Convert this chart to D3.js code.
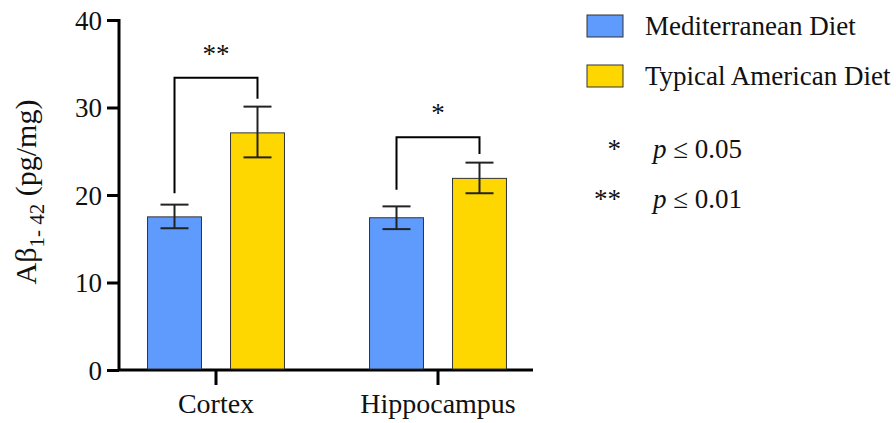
<!DOCTYPE html>
<html>
<head>
<meta charset="utf-8">
<script src="https://cdn.jsdelivr.net/npm/d3@7"></script>
<style>
  body { margin: 0; background: #fff; }
  svg { font-family: 'Liberation Serif', 'Times New Roman', serif; }
</style>
</head>
<body>
<svg width="896" height="423"></svg>
<script>
const regions = ['Cortex', 'Hippocampus'];
const series = ['Mediterranean Diet', 'Typical American Diet'];
const means = [[17.5, 27.1], [17.4, 21.9]];
const errLow = [[16.2, 24.3], [16.1, 20.2]];
const errHigh = [[18.9, 30.1], [18.7, 23.7]];
const yTicks = [0, 10, 20, 30, 40];
// bracket: height, left leg end, right leg end, label
const brackets = [
  { region: 'Cortex', top: 33.4, left: 20.2, right: 31.0, label: '**' },
  { region: 'Hippocampus', top: 26.6, left: 20.6, right: 24.7, label: '*' }
];
const sigKey = [['*', 'p', ' ≤ 0.05'], ['**', 'p', ' ≤ 0.01']];
const colors = ['#5e9bfd', '#ffd700'];

const serif = "'Liberation Serif', 'Times New Roman', serif";
const svg = d3.select('svg');
const axisX = 119, axisEnd = 533, baseY = 370;

const y = d3.scaleLinear().domain([0, 40]).range([baseY, 20]);
const x0 = d3.scaleBand().domain(regions).range([105, 549]).padding(0);
const x1 = d3.scaleBand().domain(series).range([0, x0.bandwidth()])
  .paddingInner(0.35).paddingOuter(0.5125);

// y axis
const yAxis = svg.append('g')
  .attr('transform', `translate(${axisX},0)`)
  .call(d3.axisLeft(y).tickValues(yTicks).tickSize(12).tickSizeOuter(0).tickPadding(5));
yAxis.select('.domain').attr('stroke-width', 3).attr('stroke', '#000')
  .attr('d', `M0,${y(40) - 1}V${baseY}`);
yAxis.selectAll('.tick line').attr('stroke-width', 3);
yAxis.selectAll('.tick text').attr('font-size', 27).attr('fill', '#111')
  .attr('font-family', serif).attr('dy', '0.34em');

// x axis
const xAxis = svg.append('g')
  .attr('transform', `translate(0,${baseY})`)
  .call(d3.axisBottom(x0).tickSize(15).tickSizeOuter(0).tickPadding(8));
xAxis.select('.domain').remove();
xAxis.append('line').attr('x1', axisX).attr('x2', axisEnd)
  .attr('stroke', '#000').attr('stroke-width', 3);
xAxis.selectAll('.tick line').attr('stroke-width', 3);
xAxis.selectAll('.tick text').attr('font-size', 28).attr('fill', '#111')
  .attr('font-family', serif);

// bars
const rows = [];
regions.forEach((r, i) => series.forEach((s, j) => rows.push({
  region: r, series: s, j, v: means[i][j], lo: errLow[i][j], hi: errHigh[i][j]
})));

const g = svg.append('g');
g.selectAll('rect.bar').data(rows).enter().append('rect')
  .attr('class', 'bar')
  .attr('x', d => x0(d.region) + x1(d.series))
  .attr('y', d => y(d.v))
  .attr('width', x1.bandwidth())
  .attr('height', d => baseY - 1 - y(d.v))
  .attr('fill', d => colors[d.j])
  .attr('stroke', '#333').attr('stroke-width', 1);

// error bars
const cx = d => x0(d.region) + x1(d.series) + x1.bandwidth() / 2;
const cap = 14;
const eb = g.selectAll('g.err').data(rows).enter().append('g')
  .attr('stroke', '#222').attr('stroke-width', 2);
eb.append('line').attr('x1', cx).attr('x2', cx).attr('y1', d => y(d.hi)).attr('y2', d => y(d.lo));
eb.append('line').attr('x1', d => cx(d) - cap).attr('x2', d => cx(d) + cap)
  .attr('y1', d => y(d.hi)).attr('y2', d => y(d.hi));
eb.append('line').attr('x1', d => cx(d) - cap).attr('x2', d => cx(d) + cap)
  .attr('y1', d => y(d.lo)).attr('y2', d => y(d.lo));

// significance brackets
const bx = (r, s) => x0(r) + x1(s) + x1.bandwidth() / 2;
brackets.forEach(b => {
  const xl = bx(b.region, series[0]), xr = bx(b.region, series[1]);
  g.append('path')
    .attr('d', `M${xl},${y(b.left)}V${y(b.top)}H${xr}V${y(b.right)}`)
    .attr('fill', 'none').attr('stroke', '#000').attr('stroke-width', 2);
  g.append('text')
    .attr('x', (xl + xr) / 2).attr('y', y(b.top) - 15)
    .attr('text-anchor', 'middle').attr('font-size', 27).attr('fill', '#111')
    .text(b.label);
});

// y label
const yl = svg.append('text')
  .attr('transform', 'translate(36,192) rotate(-90)')
  .attr('text-anchor', 'middle').attr('font-size', 30).attr('fill', '#111');
yl.append('tspan').text('Aβ');
yl.append('tspan').attr('font-size', 21).attr('dy', 8).text('1- 42');
yl.append('tspan').attr('dy', -8).text(' (pg/mg)');

// legend
const leg = svg.append('g');
series.forEach((s, i) => {
  leg.append('rect')
    .attr('x', 587).attr('y', 15 + i * 50).attr('width', 36).attr('height', 22)
    .attr('fill', colors[i]).attr('stroke', '#333').attr('stroke-width', 1);
  leg.append('text')
    .attr('x', 645).attr('y', 35 + i * 50)
    .attr('font-size', 27).attr('fill', '#111').text(s);
});
sigKey.forEach((k, i) => {
  leg.append('text').attr('x', 621).attr('y', 158 + i * 50)
    .attr('text-anchor', 'end').attr('font-size', 27).attr('fill', '#111').text(k[0]);
  const t = leg.append('text').attr('x', 653).attr('y', 158 + i * 50)
    .attr('font-size', 27).attr('fill', '#111');
  t.append('tspan').attr('font-style', 'italic').text(k[1]);
  t.append('tspan').text(k[2]);
});
</script>
</body>
</html>
